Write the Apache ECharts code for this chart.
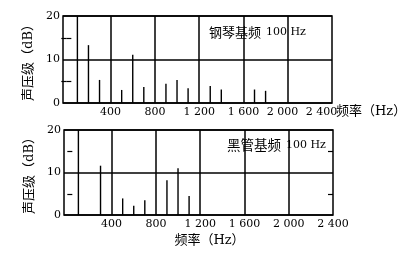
<!DOCTYPE html>
<html><head><meta charset="utf-8">
<script src="https://cdn.jsdelivr.net/npm/echarts@6/dist/echarts.min.js"></script>
<style>html,body{margin:0;padding:0;background:#fff}#c{width:408px;height:265px}</style>
</head><body><div id="c"></div>
<script>
const xLabelTicks = [400, 800, 1200, 1600, 2000, 2400];
const gridFreqs = [400, 800, 1200, 1600, 2000];
const pianoFreq = [100, 200, 300, 500, 600, 700, 900, 1000, 1100, 1300, 1400, 1700, 1800];
const pianoDb   = [20, 13.3, 5.3, 3.0, 11.1, 3.7, 4.4, 5.3, 3.4, 3.9, 3.1, 3.1, 2.8];
const clarFreq  = [100, 300, 500, 600, 700, 900, 1000, 1100];
const clarDb    = [20, 11.6, 3.9, 2.2, 3.5, 8.2, 11.0, 4.5];
const yTicks = [0, 10, 20];
const pianoTitle = ['钢琴基频', '100 Hz'];
const clarTitle = ['黑管基频', '100 Hz'];
const yName = '声压级（dB）';
const xName = '频率（Hz）';

const NUM = 'DejaVu Serif';
const CJK = '"DejaVu Serif", "Noto Sans CJK SC"';
const XMAX = xLabelTicks[xLabelTicks.length - 1];
const XPREV = xLabelTicks[xLabelTicks.length - 2];
const NB = '\u00a0';
function fmt(v){ const s = String(v); return s.length > 3 ? s.slice(0, s.length-3) + ' ' + s.slice(-3) : s; }
// mode: 'all' = every label, 'body' = all but the last, 'last' = only the last
function labFn(mode){
  return function(v){
    if (xLabelTicks.indexOf(v) < 0) return '';
    if (mode === 'body' && v === XMAX) return '';
    if (mode === 'last' && v !== XMAX) return '';
    if (mode === 'body' && v === XPREV) return fmt(v) + NB.repeat(3);
    if (mode === 'last') return fmt(v) + NB.repeat(6);
    return fmt(v);
  };
}
function xAxisCfg(gi, mode, nameCfg){
  const lab = {formatter: labFn(mode), color: '#000', fontFamily: NUM, fontSize: 11, margin: 4, hideOverlap: false};
  if (mode === 'last') { lab.showMaxLabel = true; }
  const ax = {
    type: 'value', gridIndex: gi, position: 'bottom', offset: 0,
    min: -30, max: XMAX, minInterval: 400, maxInterval: 400,
    axisLine: {show: false}, axisTick: {show: false}, splitLine: {show: false},
    axisLabel: lab
  };
  if (nameCfg) Object.assign(ax, nameCfg);
  return ax;
}
function yAxisCfg(gi, right){
  return {
    type: 'value', gridIndex: gi, min: yTicks[0], max: yTicks[yTicks.length-1], interval: 10,
    position: right ? 'right' : 'left',
    axisLine: {show: false}, axisTick: {show: false, inside: true},
    minorTick: {show: true, splitNumber: 2, length: 5, lineStyle: {color: '#000', width: 1.2}},
    splitLine: {show: !right, lineStyle: {color: '#000', width: 1.5}},
    axisLabel: {show: !right, color: '#000', fontFamily: NUM, fontSize: 11, margin: 3},
    name: right ? '' : yName, nameLocation: 'middle', nameGap: 21,
    nameTextStyle: {color: '#000', fontFamily: CJK, fontSize: 13}
  };
}
function barSeries(xi, yi, fr, db){
  return {
    type: 'bar', xAxisIndex: xi, yAxisIndex: yi, barWidth: 1.4,
    itemStyle: {color: '#000'}, z: 3,
    data: fr.map((f, i) => [f, db[i]]),
    markLine: {silent: true, symbol: 'none', label: {show: false},
      lineStyle: {color: '#000', width: 1.5, type: 'solid'},
      data: gridFreqs.map(v => ({xAxis: v}))}
  };
}
function titleCfg(parts, left, top, cjkSize){
  return {text: '{a|' + parts[0] + '} {b|' + parts[1] + '}', left: left, top: top, padding: 0,
    textStyle: {fontWeight: 'normal', rich: {
      a: {fontFamily: 'Noto Sans CJK SC', fontSize: cjkSize, fontWeight: 'normal', color: '#000'},
      b: {fontFamily: NUM, fontSize: 11, fontWeight: 'normal', color: '#000'}}}};
}
const chart = echarts.init(document.getElementById('c'), null, {renderer: 'canvas'});
chart.setOption({
  animation: false,
  backgroundColor: '#fff',
  title: [titleCfg(pianoTitle, 209, 23, 13), titleCfg(clarTitle, 227, 136, 13.5)],
  grid: [
    {left: 63, top: 16, width: 269, height: 87, show: true, borderColor: '#000', borderWidth: 1.5, backgroundColor: 'transparent'},
    {left: 64, top: 130, width: 269, height: 85, show: true, borderColor: '#000', borderWidth: 1.5, backgroundColor: 'transparent'}
  ],
  xAxis: [
    xAxisCfg(0, 'body', null),
    xAxisCfg(0, 'last', {name: xName, nameLocation: 'end', nameGap: 4, nameMoveOverlap: false,
      nameTextStyle: {color: '#000', fontFamily: CJK, fontSize: 13, verticalAlign: 'top', padding: [2, 0, 0, 0]}}),
    xAxisCfg(1, 'all', {name: xName, nameLocation: 'middle', nameGap: 19,
      nameTextStyle: {color: '#000', fontFamily: CJK, fontSize: 13, padding: [0, 0, 0, 22]}})
  ],
  yAxis: [yAxisCfg(0, false), yAxisCfg(0, true), yAxisCfg(1, false), yAxisCfg(1, true)],
  series: [barSeries(0, 0, pianoFreq, pianoDb), barSeries(2, 2, clarFreq, clarDb)]
});
</script></body></html>
